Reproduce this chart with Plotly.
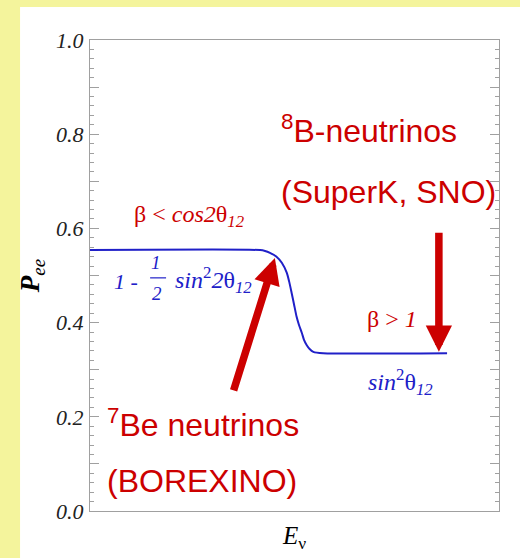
import plotly.graph_objects as go

# ---- data ----
energy = [0.0, 4.16, 4.28, 4.40, 4.56, 4.69, 4.81, 4.87, 4.93, 4.99, 5.05, 5.11,
          5.18, 5.23, 5.30, 5.37, 5.46, 5.70, 8.73]
p_ee = [0.554, 0.554, 0.552, 0.548, 0.540, 0.527, 0.506, 0.487, 0.463, 0.438,
        0.413, 0.395, 0.378, 0.364, 0.352, 0.344, 0.338, 0.335, 0.335]

ytick_vals = [0.0, 0.1, 0.2, 0.3, 0.4, 0.5, 0.6, 0.7, 0.8, 0.9, 1.0]
ytick_text = ["0.0", "", "0.2", "", "0.4", "", "0.6", "", "0.8", "", "1.0"]

RED = "#cc0000"
BLUE = "#2020c8"
YELLOW = "#f4f49c"
SERIF = "Liberation Serif"
SANS = "Liberation Sans"

fig = go.Figure()
fig.add_trace(go.Scatter(x=energy, y=p_ee, mode="lines",
                         line=dict(color=BLUE, width=2, shape="spline", smoothing=0.6),
                         hoverinfo="skip", showlegend=False))

# yellow frame strips (left and top)
fig.add_shape(type="rect", xref="paper", yref="paper", x0=-0.3, x1=-0.171, y0=-0.2, y1=1.2,
              fillcolor=YELLOW, line_width=0, layer="below")
fig.add_shape(type="rect", xref="paper", yref="paper", x0=-0.3, x1=1.2, y0=1.070, y1=1.2,
              fillcolor=YELLOW, line_width=0, layer="below")

# fraction bar
fig.add_shape(type="line", xref="x", yref="y", x0=1.47, x1=1.86, y0=0.495, y1=0.495,
              line=dict(color=BLUE, width=1.2))

def txt(x, y, text, size, color, family, xanchor="center"):
    fig.add_annotation(x=x, y=y, xref="x", yref="y", text=text, showarrow=False,
                       xanchor=xanchor, yanchor="middle",
                       font=dict(size=size, color=color, family=family))

# serif math labels
txt(2.44, 0.626, "β &lt; <i>cos2</i>θ<sub><i>12</i></sub>", 24, RED, SERIF)
txt(0.88, 0.488, "<i>1 -</i>", 22, BLUE, SERIF)
txt(1.62, 0.527, "<i>1</i>", 19, BLUE, SERIF)
txt(1.65, 0.462, "<i>2</i>", 19, BLUE, SERIF)
txt(2.03, 0.490, "<i>sin</i><sup>2</sup><i>2</i>θ<sub><i>12</i></sub>", 24, BLUE, SERIF, xanchor="left")
txt(7.38, 0.408, "β &gt; <i>1</i>", 24, RED, SERIF)
txt(7.60, 0.274, "<i>sin</i><sup>2</sup>θ<sub><i>12</i></sub>", 24, BLUE, SERIF)

# sans labels
txt(6.81, 0.812, "<sup>8</sup>B-neutrinos", 32, RED, SANS)
txt(7.29, 0.677, "(SuperK, SNO)", 32, RED, SANS)
txt(0.37, 0.187, "<sup>7</sup>Be neutrinos", 32, RED, SANS, xanchor="left")
txt(0.37, 0.064, "(BOREXINO)", 32, RED, SANS, xanchor="left")

# arrows
fig.add_annotation(x=4.52, y=0.537, ax=3.50, ay=0.253, xref="x", yref="y",
                   axref="x", ayref="y", text="", showarrow=True,
                   arrowhead=2, arrowwidth=7.5, arrowsize=0.7, arrowcolor=RED, standoff=0)
fig.add_annotation(x=8.53, y=0.338, ax=8.53, ay=0.594, xref="x", yref="y",
                   axref="x", ayref="y", text="", showarrow=True,
                   arrowhead=2, arrowwidth=7.5, arrowsize=0.7, arrowcolor=RED, standoff=0)

fig.update_layout(
    width=520, height=558,
    margin=dict(l=90, r=21, t=40, b=47),
    paper_bgcolor="white", plot_bgcolor="white",
    showlegend=False,
    xaxis=dict(range=[0, 10], showgrid=False, zeroline=False, showticklabels=False,
               ticks="", showline=True, linecolor="#a0a0a0", linewidth=1, mirror=True,
               title=dict(text="<i>E</i><sub>ν</sub>", standoff=15,
                          font=dict(family=SERIF, size=25, color="black"))),
    yaxis=dict(range=[0, 1], showgrid=False, zeroline=False,
               tickmode="array", tickvals=ytick_vals, ticktext=ytick_text,
               ticks="inside", ticklen=9, tickcolor="#a0a0a0", tickwidth=1,
               minor=dict(tickmode="linear", tick0=0, dtick=0.02, ticks="inside",
                          ticklen=4, tickcolor="#a0a0a0", tickwidth=1),
               showline=True, linecolor="#a0a0a0", linewidth=1, mirror="allticks",
               ticklabelstandoff=1,
               tickfont=dict(family=SERIF, size=22, style="italic", color="#222222"),
               title=dict(text="<b><i>P</i></b><sub><i>ee</i></sub>", standoff=8,
                          font=dict(family=SERIF, size=27, color="black"))),
)

fig.write_html("out.html", config={"displayModeBar": False},
               post_script="document.body.style.margin='0';document.body.style.padding='0';")
